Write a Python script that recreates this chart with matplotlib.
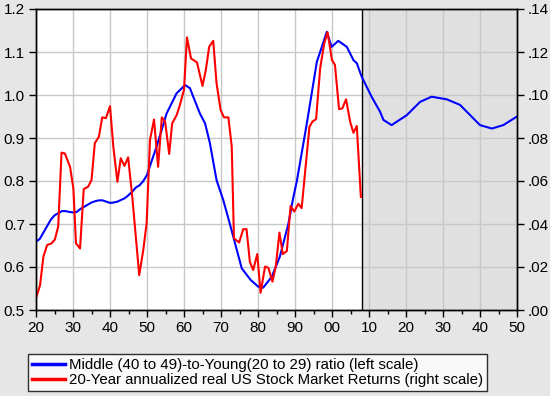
import matplotlib
matplotlib.use("Agg")
import matplotlib.pyplot as plt
from matplotlib.ticker import MultipleLocator, FuncFormatter

plt.rcParams['font.family'] = ['Liberation Sans', 'DejaVu Sans']

# Middle (40-49) to Young (20-29) ratio, left scale
blue_years = [1920, 1921, 1922, 1923, 1924, 1925, 1926, 1927, 1928, 1929,
              1930, 1931, 1932, 1933, 1934, 1935, 1936, 1937, 1938, 1939,
              1940, 1941, 1942, 1943, 1944, 1945, 1946, 1947, 1948, 1949,
              1950, 1951, 1952.6, 1955.3, 1958, 1960.3, 1961.6, 1962.5, 1964.3,
              1965.7, 1967, 1968.8, 1970.6, 1972.4, 1975.6, 1978, 1980.1,
              1981.4, 1983.7, 1985.9, 1988.2, 1989.5, 1990.5, 1993.2, 1995.9,
              1998.6, 1999.9, 2001.7, 2004, 2005.8, 2006.7, 2008, 2010.7,
              2013, 2013.9, 2016.1, 2020.2, 2023.8, 2026.9, 2031, 2034.6,
              2040, 2043.2, 2046.3, 2050]
blue_vals = [0.659, 0.665, 0.680, 0.695, 0.710, 0.720, 0.725, 0.730, 0.730, 0.728,
             0.727, 0.728, 0.735, 0.740, 0.745, 0.750, 0.753, 0.755, 0.755, 0.752,
             0.749, 0.750, 0.752, 0.756, 0.760, 0.767, 0.775, 0.785, 0.790, 0.800,
             0.814, 0.840, 0.880, 0.957, 1.004, 1.023, 1.016, 0.996, 0.957,
             0.934, 0.888, 0.802, 0.756, 0.700, 0.597, 0.570, 0.554,
             0.552, 0.577, 0.624, 0.700, 0.760, 0.800, 0.934, 1.077,
             1.147, 1.112, 1.126, 1.112, 1.081, 1.074, 1.043, 0.996,
             0.961, 0.942, 0.930, 0.953, 0.984, 0.996, 0.990, 0.977,
             0.930, 0.922, 0.930, 0.950]

# 20-year annualized real stock returns, right scale
red_years = [1920, 1921.1, 1922, 1923, 1924.2, 1925.1, 1926, 1926.9, 1927.8, 1929.2,
             1930.1, 1930.8, 1931.9, 1932.9, 1934.1, 1935, 1935.9, 1937, 1937.9, 1938.9,
             1940, 1940.9, 1942, 1942.9, 1943.9, 1944.9, 1946, 1947.9, 1949, 1949.9,
             1950.8, 1951.9, 1953, 1954, 1954.9, 1956, 1956.8, 1958, 1958.9, 1960,
             1960.8, 1961.9, 1963.5, 1965, 1965.9, 1966.8, 1967.9, 1968.8, 1969.9, 1970.8,
             1972, 1972.9, 1973.5, 1974.9, 1976, 1976.9, 1977.8, 1978.7, 1979.8, 1980.7,
             1981.9, 1982.8, 1983.9, 1984.8, 1985.8, 1986.7, 1987.8, 1988.8, 1989.8, 1990.9,
             1991.8, 1993.9, 1994.7, 1995.7, 1996.8, 1997.9, 1998.8, 2000, 2000.8, 2001.9,
             2002.8, 2003.8, 2004.9, 2005.8, 2006.7, 2007.8]
red_vals = [0.0054, 0.0116, 0.0248, 0.0302, 0.0310, 0.0328, 0.0388, 0.0732, 0.0728, 0.0666,
            0.0566, 0.0310, 0.0286, 0.0562, 0.0574, 0.0604, 0.0776, 0.0806, 0.0896, 0.0892,
            0.0948, 0.0760, 0.0596, 0.0706, 0.0670, 0.0710, 0.0530, 0.0162, 0.0280, 0.0404,
            0.0790, 0.0886, 0.0666, 0.0896, 0.0876, 0.0726, 0.0868, 0.0906, 0.0954, 0.1024,
            0.1268, 0.1170, 0.1152, 0.1042, 0.1116, 0.1224, 0.1252, 0.1054, 0.0930, 0.0896,
            0.0896, 0.0760, 0.0334, 0.0314, 0.0376, 0.0376, 0.0224, 0.0186, 0.0260, 0.0080,
            0.0202, 0.0196, 0.0132, 0.0202, 0.0360, 0.0260, 0.0274, 0.0484, 0.0458, 0.0494,
            0.0474, 0.0852, 0.0876, 0.0888, 0.1124, 0.1240, 0.1292, 0.1162, 0.1140, 0.0934,
            0.0938, 0.0980, 0.0876, 0.0824, 0.0856, 0.0526]

forecast_start = 2008

fig = plt.figure(figsize=(5.5, 3.96), dpi=100)
fig.patch.set_facecolor('#E6E6E6')
ax = fig.add_axes([36 / 550, 1 - 310 / 396, 481 / 550, 301 / 396])
ax.set_facecolor('white')

ax.axvspan(forecast_start, 2050, color='#E0E0E0', zorder=0, lw=0)
ax.axvline(forecast_start, color='black', lw=1, zorder=1)
ax.set_axisbelow(True)
ax.grid(True, color='#C8C8C8', lw=1)

l1, = ax.plot(blue_years, blue_vals, color='blue', lw=1.5, zorder=3)
ax.set_xlim(1920, 2050)
ax.set_ylim(0.5, 1.2)
ax.xaxis.set_major_locator(MultipleLocator(10))
ax.xaxis.set_minor_locator(MultipleLocator(5))
ax.xaxis.set_major_formatter(FuncFormatter(lambda v, p: "%02d" % (int(round(v)) % 100)))
ax.yaxis.set_major_locator(MultipleLocator(0.1))
ax.yaxis.set_major_formatter(FuncFormatter(lambda v, p: "%.1f" % v))

ax2 = ax.twinx()
l2, = ax2.plot(red_years, red_vals, color='red', lw=1.5)
ax2.set_ylim(0.0, 0.14)
ax2.yaxis.set_major_locator(MultipleLocator(0.02))
ax2.yaxis.set_major_formatter(FuncFormatter(lambda v, p: ("%.2f" % v)[1:]))

for a in (ax, ax2):
    a.tick_params(direction='out', length=5, width=1, labelsize=11, colors='black', pad=3)
    a.tick_params(which='minor', direction='out', length=3, width=1)
    for s in a.spines.values():
        s.set_color('black')
        s.set_linewidth(1)

leg = fig.legend([l1, l2],
                 ['Middle (40 to 49)-to-Young(20 to 29) ratio (left scale)',
                  '20-Year annualized real US Stock Market Returns (right scale)'],
                 loc='lower left', bbox_to_anchor=(28 / 550, 5 / 396),
                 fontsize=10.8, frameon=True, fancybox=False, edgecolor='black',
                 handlelength=2.2, handletextpad=0.3, borderpad=0.25,
                 labelspacing=0.1, borderaxespad=0)
leg.get_frame().set_linewidth(1)
for h in leg.get_lines():
    h.set_linewidth(2.5)

fig.savefig('out.png', dpi=100, facecolor=fig.get_facecolor())
